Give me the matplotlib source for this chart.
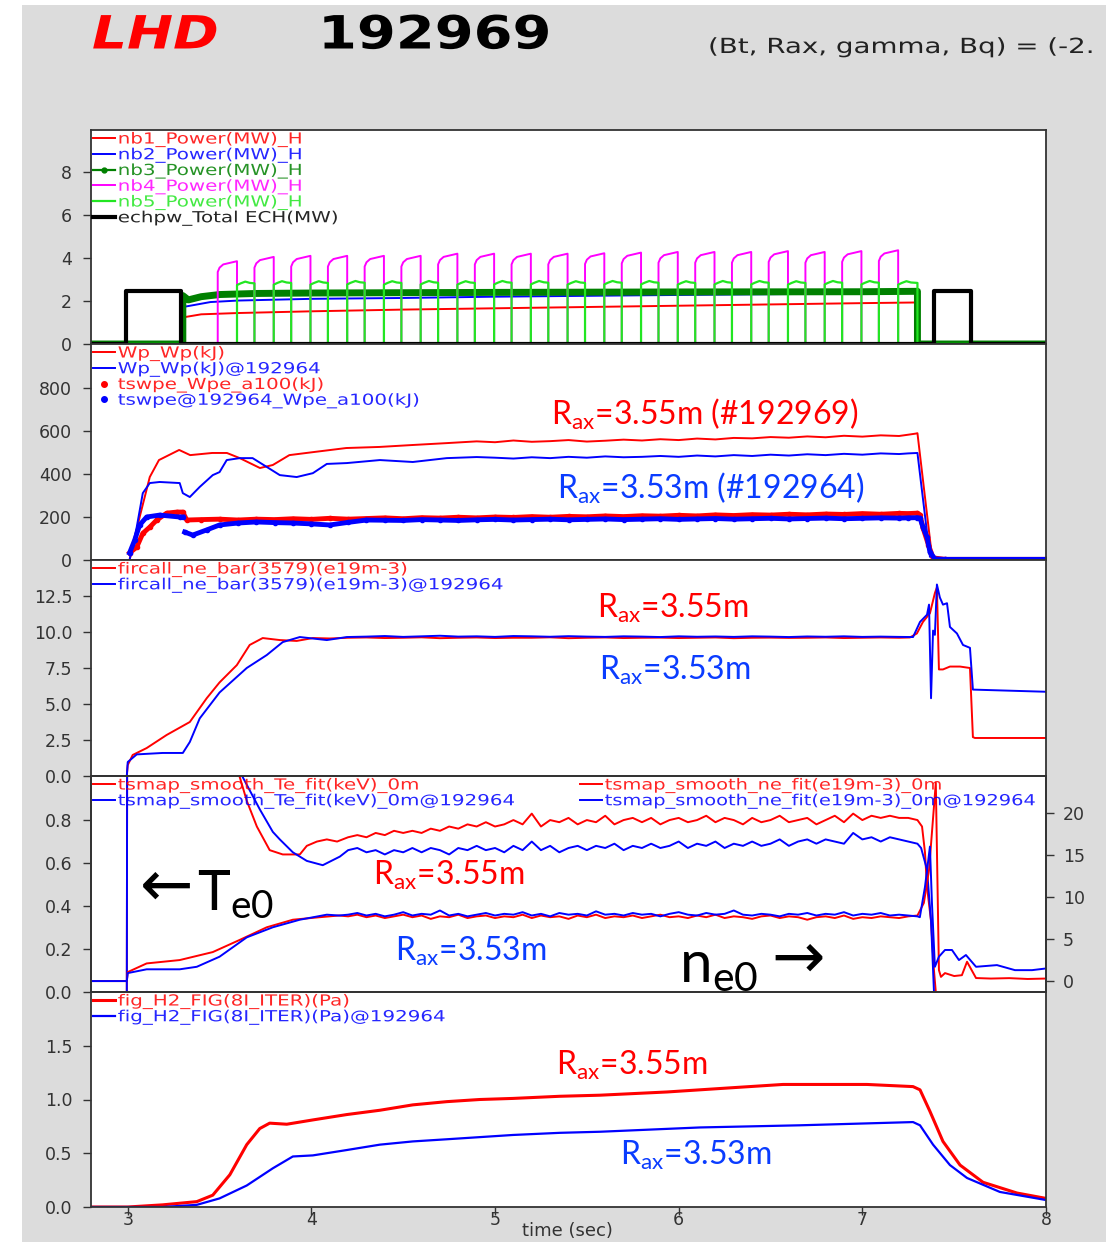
""" LHD shot 192969 vs 192964 - five stacked time traces.

Values were read off the reference screenshot by eye.
"""
import numpy as np
import matplotlib
matplotlib.use("Agg")
import matplotlib.pyplot as plt
from matplotlib.lines import Line2D
from matplotlib.patches import Rectangle
from matplotlib.patheffects import AbstractPathEffect
from matplotlib.ticker import FormatStrFormatter
from matplotlib.transforms import Affine2D

plt.rcParams["mathtext.fontset"] = "custom"
plt.rcParams["mathtext.rm"] = "Lato"
plt.rcParams["mathtext.it"] = "Lato:italic"

T0, T1 = 2.8, 8.0

# ---- panel 1 : heating power (MW) ---------------------------------------
ECH_T = [2.8, 2.99, 2.99, 3.29, 3.29, 7.39, 7.39, 7.59, 7.59, 8.0]
ECH_V = [0, 0, 2.45, 2.45, 0, 0, 2.45, 2.45, 0, 0]

NB1_T = [2.8, 3.30, 3.30, 3.31, 3.40, 3.60, 4.0, 4.5, 5.0, 5.5, 6.0, 6.5, 7.0, 7.29, 7.29, 8.0]
NB1_V = [0, 0, 1.0, 1.25, 1.38, 1.44, 1.52, 1.60, 1.66, 1.72, 1.78, 1.84, 1.90, 1.93, 0, 0]

NB2_T = [2.8, 3.30, 3.30, 3.34, 3.45, 3.60, 4.0, 4.5, 5.0, 6.0, 7.0, 7.30, 7.30, 8.0]
NB2_V = [0, 0, 1.72, 1.78, 1.95, 2.02, 2.10, 2.14, 2.20, 2.28, 2.35, 2.38, 0, 0]

NB3_T = [2.8, 3.30, 3.30, 3.33, 3.40, 3.50, 3.70, 4.0, 5.0, 6.0, 7.0, 7.30, 7.30, 8.0]
NB3_V = [0, 0, 2.25, 2.05, 2.20, 2.30, 2.35, 2.37, 2.40, 2.42, 2.43, 2.45, 0, 0]

# nb4 is modulated: pulse start times (s), pulse length, level at pulse end
NB4_START = [3.49, 3.69, 3.89, 4.09, 4.29, 4.49, 4.69, 4.89, 5.09, 5.29,
             5.49, 5.69, 5.89, 6.09, 6.29, 6.49, 6.69, 6.89, 7.09]
NB4_WIDTH = 0.105
NB4_TOP = [3.85, 4.05, 4.10, 4.10, 4.10, 4.10, 4.20, 4.20, 4.20, 4.20,
           4.22, 4.25, 4.28, 4.28, 4.28, 4.32, 4.28, 4.32, 4.36]
NB_OFF = 7.30
# nb5 fills the gaps between nb4 pulses
NB5_TOP = [2.82, 2.84, 2.84, 2.85, 2.84, 2.85, 2.84, 2.85, 2.85, 2.84,
           2.85, 2.85, 2.84, 2.85, 2.85, 2.84, 2.85, 2.85, 2.84]

# ---- panel 2 : stored energy (kJ) ---------------------------------------
WP_R_T = [2.8, 3.01, 3.065, 3.12, 3.17, 3.28, 3.34, 3.46, 3.54, 3.61, 3.72,
          3.79, 3.88, 4.01, 4.19, 4.37, 4.55, 4.74, 4.86]
WP_R_V = [0, 0, 200, 386, 465, 512, 488, 498, 498, 474, 428,
          442, 488, 502, 521, 526, 535, 544, 550]
WP_R_FLAT = [552, 548, 556, 550, 553, 558, 551, 555, 560, 556, 562, 558,
             565, 561, 568, 566, 572, 569, 575, 571, 578, 574, 580, 577]   # 4.9..7.2
WP_R_END_T = [7.25, 7.29, 7.30, 7.38, 7.40, 8.0]
WP_R_END_V = [583, 588, 590, 10, 6, 5]

WP_B_T = [2.8, 3.01, 3.049, 3.082, 3.12, 3.174, 3.283, 3.30, 3.338, 3.392,
          3.463, 3.50, 3.539, 3.61, 3.68, 3.757, 3.828, 3.92, 4.008, 4.084,
          4.193, 4.373, 4.552, 4.737, 4.90]
WP_B_V = [0, 0, 153, 311, 358, 363, 358, 311, 293, 340,
          395, 409, 465, 474, 474, 433, 395, 386, 404, 447,
          451, 465, 456, 474, 479]
WP_B_FLAT = [476, 472, 478, 474, 480, 476, 482, 478, 480, 484, 480, 486,
             482, 488, 484, 490, 486, 492, 488, 494, 490, 496, 493]        # 5.0..7.2
WP_B_END_T = [7.25, 7.30, 7.368, 7.40, 8.0]
WP_B_END_V = [496, 498, 15, 8, 8]

WPE_R_T = [3.01, 3.049, 3.082, 3.12, 3.158, 3.212, 3.267, 3.30, 3.321]
WPE_R_V = [33, 60, 124, 153, 186, 218, 223, 223, 186]
WPE_R_FLAT = [188, 190, 186, 190, 188, 192, 189, 194, 190, 193, 196, 192, 197,
              195, 199, 196, 200, 198, 202, 199, 203, 201, 205, 202, 206, 204,
              208, 205, 210, 207, 211, 209, 213, 210, 214, 212, 216, 213, 217]  # 3.4..7.2
WPE_R_END_T = [7.25, 7.30, 7.314, 7.33, 7.36, 7.385, 7.45, 8.0]
WPE_R_END_V = [216, 218, 210, 150, 70, 10, 3, 3]

WPE_B_T = [3.01, 3.038, 3.065, 3.103, 3.174, 3.283, 3.30, 3.305, 3.31, 3.354, 3.43]
WPE_B_V = [33, 93, 163, 200, 209, 200, 200, np.nan, 130, 116, 140]
WPE_B_FLAT = [163, 172, 177, 174, 172, 168, 163, 175, 186, 185, 184, 188, 186,
              184, 187, 189, 186, 188, 190, 187, 189, 191, 188, 190, 192, 189,
              191, 193, 190, 192, 194, 191, 193, 195, 192, 194, 196, 195]      # 3.5..7.2
WPE_B_END_T = [7.25, 7.30, 7.314, 7.33, 7.352, 7.368, 7.395, 7.45, 8.0]
WPE_B_END_V = [196, 197, 195, 153, 107, 37, 5, 3, 3]

# ---- panel 3 : line averaged density (1e19 m^-3) ------------------------
NEB_R_T = [2.8, 2.995, 3.0, 3.027, 3.103, 3.212, 3.338, 3.43, 3.50, 3.594,
           3.664, 3.735, 3.828, 3.92, 4.008]
NEB_R_V = [0, 0, 0.76, 1.46, 1.94, 2.85, 3.75, 5.4, 6.5, 7.7,
           9.1, 9.58, 9.44, 9.38, 9.58]
NEB_R_FLAT = [9.55, 9.60, 9.62, 9.58, 9.60, 9.63, 9.57, 9.60, 9.62, 9.58, 9.60,
              9.60, 9.63, 9.57, 9.60, 9.62, 9.58, 9.60, 9.61, 9.58, 9.60, 9.62,
              9.57, 9.60, 9.61, 9.59, 9.60, 9.62, 9.58, 9.60, 9.62, 9.60]       # 4.1..7.2
NEB_R_END_T = [7.259, 7.297, 7.33, 7.368, 7.395, 7.406, 7.417, 7.439, 7.477,
               7.532, 7.586, 7.602, 7.613, 8.0]
NEB_R_END_V = [9.62, 9.9, 10.7, 11.3, 12.7, 13.1, 7.4, 7.4, 7.6,
               7.6, 7.5, 2.7, 2.64, 2.64]

NEB_B_T = [2.8, 2.995, 3.0, 3.049, 3.19, 3.30, 3.338, 3.392, 3.50, 3.648,
           3.757, 3.844, 3.937, 4.084, 4.193]
NEB_B_V = [0, 0, 0.97, 1.5, 1.6, 1.6, 2.36, 4.0, 5.8, 7.5,
           8.4, 9.3, 9.65, 9.44, 9.65]
NEB_B_FLAT = [9.68, 9.72, 9.66, 9.70, 9.74, 9.68, 9.70, 9.66, 9.72, 9.70,
              9.67, 9.71, 9.68, 9.66, 9.70, 9.68, 9.65, 9.70, 9.67, 9.69,
              9.66, 9.70, 9.68, 9.65, 9.69, 9.67, 9.70, 9.66, 9.68, 9.66]       # 4.3..7.2
NEB_B_END_T = [7.276, 7.314, 7.352, 7.363, 7.374, 7.385, 7.395, 7.406, 7.422,
               7.439, 7.461, 7.477, 7.515, 7.548, 7.586, 7.602, 8.0]
NEB_B_END_V = [9.65, 10.7, 11.2, 11.9, 5.4, 10.1, 9.8, 13.3, 12.4,
               11.9, 12.0, 10.35, 9.9, 9.1, 8.9, 6.0, 5.85]

# ---- panel 4 : central Te (keV, left) and ne (1e19 m^-3, right) ---------
TE_R_T = [2.8, 2.995, 3.0, 3.57, 3.61, 3.648, 3.703, 3.773, 3.844, 3.937,
          3.975, 4.03, 4.084, 4.14]
TE_R_V = [0, 0, 3.0, 1.05, 1.0, 0.89, 0.77, 0.66, 0.64, 0.64,
          0.68, 0.70, 0.71, 0.70]
TE_R_NOISE = [0.72, 0.73, 0.72, 0.74, 0.73, 0.75, 0.74, 0.75, 0.74, 0.76, 0.75,
              0.77, 0.76, 0.78, 0.77, 0.79, 0.77, 0.78, 0.80, 0.78, 0.83, 0.77,
              0.80, 0.79, 0.81, 0.78, 0.80, 0.79, 0.82, 0.78, 0.80, 0.81, 0.79,
              0.81, 0.78, 0.80, 0.81, 0.79, 0.80, 0.82, 0.79, 0.81, 0.80, 0.78,
              0.81, 0.79, 0.80, 0.82, 0.79, 0.80, 0.81, 0.78, 0.80, 0.82, 0.79,
              0.83, 0.80, 0.82, 0.81, 0.82, 0.81, 0.81, 0.80]                   # 4.2..7.3
TE_R_END_T = [7.325, 7.341, 7.352, 7.374, 7.39, 7.40, 8.0]
TE_R_END_V = [0.77, 0.65, 0.49, 0.33, 0.10, 0.0, 0.0]

TE_B_T = [2.8, 2.995, 3.0, 3.59, 3.626, 3.719, 3.79, 3.828, 3.899, 3.975,
          4.062, 4.155]
TE_B_V = [0, 0, 3.0, 1.05, 1.0, 0.85, 0.745, 0.71, 0.65, 0.61,
          0.59, 0.63]
TE_B_NOISE = [0.66, 0.67, 0.65, 0.66, 0.64, 0.66, 0.65, 0.67, 0.65, 0.67, 0.66,
              0.64, 0.67, 0.66, 0.68, 0.66, 0.67, 0.65, 0.68, 0.66, 0.70, 0.66,
              0.68, 0.65, 0.67, 0.68, 0.66, 0.68, 0.67, 0.69, 0.66, 0.68, 0.67,
              0.69, 0.67, 0.68, 0.70, 0.67, 0.69, 0.68, 0.70, 0.67, 0.69, 0.68,
              0.70, 0.68, 0.69, 0.71, 0.68, 0.70, 0.71, 0.69, 0.71, 0.70, 0.69,
              0.74, 0.71, 0.72, 0.70, 0.72, 0.71, 0.70, 0.69]                   # 4.2..7.3
TE_B_END_T = [7.32, 7.352, 7.374, 7.39, 8.0]
TE_B_END_V = [0.67, 0.57, 0.33, 0.0, 0.0]

NE_R_T = [2.8, 2.995, 3.0, 3.103, 3.283, 3.463, 3.61, 3.757, 3.899, 4.046, 4.15]
NE_R_V = [0, 0, 1.07, 2.1, 2.5, 3.45, 4.9, 6.4, 7.3, 7.6, 7.8]
NE_R_NOISE = [7.7, 7.9, 7.6, 7.8, 7.5, 7.7, 7.9, 7.6, 7.8, 7.4, 7.7, 7.6, 7.9,
              7.5, 7.7, 7.8, 7.5, 7.7, 7.6, 7.9, 7.5, 7.8, 7.6, 7.7, 7.4, 7.8,
              7.6, 7.9, 7.5, 7.7, 7.6, 7.8, 7.5, 7.7, 7.9, 7.6, 7.7, 7.5, 7.8,
              7.6, 7.9, 7.5, 7.7, 7.6, 7.4, 7.7, 7.8, 7.5, 7.7, 7.6, 7.3, 7.6,
              7.7, 7.5, 7.8, 7.4, 7.6, 7.5, 7.7, 7.6, 7.5, 7.7, 7.8]            # 4.2..7.3
NE_R_END_T = [7.335, 7.363, 7.40, 7.417, 7.428, 7.45, 7.50, 7.542, 7.57,
              7.619, 7.70, 7.80, 7.90, 8.0]
NE_R_END_V = [9.3, 13.2, 23.6, 1.3, 0.5, 0.95, 0.6, 0.7, 2.3,
              0.36, 0.3, 0.35, 0.25, 0.3]

NE_B_T = [2.8, 2.995, 3.0, 3.103, 3.283, 3.376, 3.50, 3.648, 3.79, 3.937,
          4.084, 4.15]
NE_B_V = [0, 0, 0.95, 1.4, 1.4, 1.7, 2.9, 5.2, 6.4, 7.3, 7.9, 7.8]
NE_B_NOISE = [7.9, 8.1, 7.8, 8.0, 7.7, 7.9, 8.2, 7.8, 8.0, 7.9, 8.4, 7.8, 8.0,
              7.7, 7.9, 8.1, 7.8, 8.0, 7.9, 8.2, 7.8, 8.0, 7.7, 8.1, 7.9, 8.0,
              7.8, 8.3, 7.9, 8.0, 7.8, 8.1, 7.9, 8.0, 7.7, 8.0, 8.2, 7.9, 7.8,
              8.1, 7.9, 8.0, 8.4, 7.9, 7.8, 8.0, 7.9, 7.7, 8.0, 7.9, 8.1, 7.8,
              8.0, 7.9, 8.2, 7.8, 8.0, 7.9, 8.1, 7.8, 7.9, 7.8, 7.7]            # 4.2..7.3
NE_B_END_T = [7.313, 7.341, 7.368, 7.379, 7.395, 7.417, 7.45, 7.488, 7.526,
              7.564, 7.619, 7.733, 7.831, 7.924, 8.0]
NE_B_END_V = [7.6, 11.2, 16.0, 9.3, 1.7, 2.9, 3.7, 3.7, 2.5,
              3.1, 1.7, 1.9, 1.3, 1.3, 1.5]

# ---- panel 5 : neutral H2 pressure (Pa) ---------------------------------
FIG_R_T = [2.8, 3.0, 3.19, 3.376, 3.463, 3.556, 3.648, 3.719, 3.773, 3.866,
           4.008, 4.193, 4.373, 4.552, 4.737, 4.917, 5.097, 5.353, 5.571,
           5.936, 6.295, 6.568, 7.025, 7.276, 7.314, 7.368, 7.439, 7.532,
           7.657, 7.842, 8.0]
FIG_R_V = [0, 0, 0.02, 0.05, 0.11, 0.30, 0.58, 0.73, 0.78, 0.77,
           0.81, 0.86, 0.90, 0.95, 0.98, 1.00, 1.01, 1.03, 1.04,
           1.07, 1.11, 1.14, 1.14, 1.12, 1.09, 0.89, 0.61, 0.39,
           0.23, 0.13, 0.08]
FIG_B_T = [2.8, 3.19, 3.376, 3.50, 3.648, 3.79, 3.899, 4.008, 4.193, 4.373,
           4.552, 4.737, 4.917, 5.097, 5.353, 5.571, 6.116, 6.66, 7.276,
           7.314, 7.385, 7.477, 7.570, 7.749, 8.0]
FIG_B_V = [0, 0, 0.02, 0.08, 0.20, 0.36, 0.47, 0.48, 0.53, 0.58,
           0.61, 0.63, 0.65, 0.67, 0.69, 0.70, 0.74, 0.76, 0.79,
           0.76, 0.58, 0.39, 0.27, 0.14, 0.065]

X_TICKS = [3, 4, 5, 6, 7, 8]

RED, BLUE = "#ff0000", "#0000ff"
TXT_BLUE = "#0a3cff"
W, H = 1106, 1242


class HStretch(AbstractPathEffect):
    """Widen glyphs about the text origin (the screenshot is stretched)."""

    def __init__(self, sx):
        super().__init__()
        self.sx = sx

    def draw_path(self, renderer, gc, tpath, affine, rgbFace=None):
        renderer.draw_path(gc, tpath, Affine2D().scale(self.sx, 1) + affine, rgbFace)


def join(t_head, v_head, flat, t0, t1, t_tail, v_tail):
    """Glue hand-read start, evenly sampled middle and end pieces."""
    t_mid = list(np.linspace(t0, t1, len(flat)))
    return (np.array(list(t_head) + t_mid + list(t_tail), float),
            np.array(list(v_head) + list(flat) + list(v_tail), float))


def nb4_wave():
    t, v = [T0], [0.0]
    for ts, a in zip(NB4_START, NB4_TOP):
        te = ts + NB4_WIDTH
        t += [ts, ts, ts + 0.01, ts + 0.03, te, te]
        v += [0, a - 0.5, a - 0.3, a - 0.15, a, 0]
    return t + [T1], v + [0.0]


def nb5_wave():
    t, v = [T0], [0.0]
    nxt = NB4_START[1:] + [NB_OFF]
    for ts, te, a in zip(NB4_START, nxt, NB5_TOP):
        on = ts + NB4_WIDTH
        t += [on, on, on + 0.02, on + 0.045, on + 0.07, te, te]
        v += [0, a - 0.08, a, a + 0.08, a + 0.02, a, 0]
    return t + [T1], v + [0.0]


def style(ax, yticks, fmt=None, bottom=False, right=False):
    ax.set_xlim(T0, T1)
    ax.set_yticks(yticks)
    if fmt:
        ax.yaxis.set_major_formatter(FormatStrFormatter(fmt))
    for s in ax.spines.values():
        s.set_color("#333333")
        s.set_linewidth(1.3)
    ax.tick_params(axis="both", direction="out", length=6, width=1,
                   color="#333333", labelcolor="#333333", labelsize=12.5)
    ax.tick_params(axis="y", pad=6 if right else 7.5)
    ax.tick_params(axis="x", pad=-3)
    if not bottom:
        ax.tick_params(axis="x", bottom=False, labelbottom=False)


def legend(ax, handles, x0=0.0, sx=1.3):
    leg = ax.legend(handles=handles, loc="upper left", bbox_to_anchor=(x0, 1.0),
                    frameon=False, fontsize=11, handlelength=1.5,
                    handletextpad=0.15, labelspacing=-0.03,
                    borderaxespad=0.0, borderpad=0.1, numpoints=1)
    for txt, h in zip(leg.get_texts(), handles):
        txt.set_color(h.get_color())
        txt.set_alpha(0.85)
        txt.set_path_effects([HStretch(sx)])
    return leg


fig = plt.figure(figsize=(W / 100, H / 100), dpi=100, facecolor="white")
fig.patches.append(Rectangle((22 / W, 0), 1 - 22 / W, 1 - 5 / H,
                             transform=fig.transFigure, facecolor="#dcdcdc",
                             edgecolor="none", zorder=-10))

panel_px = [(130, 344), (344, 560), (560, 776), (776, 992), (992, 1207)]
axes = [fig.add_axes([91 / W, 1 - b / H, (1046 - 91) / W, (b - t) / H])
        for t, b in panel_px]
ax1, ax2, ax3, ax4, ax5 = axes

# ---- panel 1 ----
lw = 1.4
h1, = ax1.plot(NB1_T, NB1_V, color=RED, lw=lw, label="nb1_Power(MW)_H")
h2, = ax1.plot(NB2_T, NB2_V, color=BLUE, lw=lw, label="nb2_Power(MW)_H")
ax1.plot(NB3_T, NB3_V, color="#008000", lw=5)
h3 = Line2D([], [], color="#008000", lw=1.6, marker=".", ms=7,
            label="nb3_Power(MW)_H")
t4, v4 = nb4_wave()
h4, = ax1.plot(t4, v4, color="#ff00ff", lw=lw, label="nb4_Power(MW)_H")
t5, v5 = nb5_wave()
h5, = ax1.plot(t5, v5, color="#22e622", lw=1.6, label="nb5_Power(MW)_H")
h6, = ax1.plot(ECH_T, ECH_V, color="black", lw=3, label="echpw_Total ECH(MW)")
ax1.set_ylim(0, 9.95)
style(ax1, [0, 2, 4, 6, 8])
legend(ax1, [h1, h2, h3, h4, h5, h6])

# ---- panel 2 ----
t, v = join(WP_R_T, WP_R_V, WP_R_FLAT, 4.9, 7.2, WP_R_END_T, WP_R_END_V)
g1, = ax2.plot(t, v, color=RED, lw=lw, label="Wp_Wp(kJ)")
t, v = join(WP_B_T, WP_B_V, WP_B_FLAT, 5.0, 7.2, WP_B_END_T, WP_B_END_V)
g2, = ax2.plot(t, v, color=BLUE, lw=lw, label="Wp_Wp(kJ)@192964")
t, v = join(WPE_R_T, WPE_R_V, WPE_R_FLAT, 3.4, 7.2, WPE_R_END_T, WPE_R_END_V)
ax2.plot(t, v, color=RED, lw=3.5, marker=".", ms=6)
t, v = join(WPE_B_T, WPE_B_V, WPE_B_FLAT, 3.5, 7.2, WPE_B_END_T, WPE_B_END_V)
ax2.plot(t, v, color=BLUE, lw=3.5, marker=".", ms=6)
g3 = Line2D([], [], color=RED, ls="none", marker=".", ms=8,
            label="tswpe_Wpe_a100(kJ)")
g4 = Line2D([], [], color=BLUE, ls="none", marker=".", ms=8,
            label="tswpe@192964_Wpe_a100(kJ)")
ax2.set_ylim(0, 1005)
style(ax2, [0, 200, 400, 600, 800])
legend(ax2, [g1, g2, g3, g4])

# ---- panel 3 ----
t, v = join(NEB_R_T, NEB_R_V, NEB_R_FLAT, 4.1, 7.2, NEB_R_END_T, NEB_R_END_V)
k1, = ax3.plot(t, v, color=RED, lw=lw, label="fircall_ne_bar(3579)(e19m-3)")
t, v = join(NEB_B_T, NEB_B_V, NEB_B_FLAT, 4.3, 7.2, NEB_B_END_T, NEB_B_END_V)
k2, = ax3.plot(t, v, color=BLUE, lw=lw,
               label="fircall_ne_bar(3579)(e19m-3)@192964")
ax3.set_ylim(0, 15)
style(ax3, [0, 2.5, 5, 7.5, 10, 12.5], "%.1f")
legend(ax3, [k1, k2])

# ---- panel 4 (two y axes) ----
ax4r = ax4.twinx()
t, v = join(TE_R_T, TE_R_V, TE_R_NOISE, 4.2, 7.3, TE_R_END_T, TE_R_END_V)
m1, = ax4.plot(t, v, color=RED, lw=lw, label="tsmap_smooth_Te_fit(keV)_0m")
t, v = join(TE_B_T, TE_B_V, TE_B_NOISE, 4.2, 7.3, TE_B_END_T, TE_B_END_V)
m2, = ax4.plot(t, v, color=BLUE, lw=lw,
               label="tsmap_smooth_Te_fit(keV)_0m@192964")
t, v = join(NE_R_T, NE_R_V, NE_R_NOISE, 4.2, 7.3, NE_R_END_T, NE_R_END_V)
n1, = ax4r.plot(t, v, color=RED, lw=lw, label="tsmap_smooth_ne_fit(e19m-3)_0m")
t, v = join(NE_B_T, NE_B_V, NE_B_NOISE, 4.2, 7.3, NE_B_END_T, NE_B_END_V)
n2, = ax4r.plot(t, v, color=BLUE, lw=lw,
                label="tsmap_smooth_ne_fit(e19m-3)_0m@192964")
ax4.set_ylim(0, 1.005)
ax4r.set_ylim(-1.3, 24.4)
style(ax4, [0, 0.2, 0.4, 0.6, 0.8], "%.1f")
style(ax4r, [0, 5, 10, 15, 20], right=True)
legend(ax4, [m1, m2])
legend(ax4r, [n1, n2], x0=(578 - 91) / (1046 - 91), sx=1.27)

# ---- panel 5 ----
p1, = ax5.plot(FIG_R_T, FIG_R_V, color=RED, lw=2.2,
               label="fig_H2_FIG(8I_ITER)(Pa)")
p2, = ax5.plot(FIG_B_T, FIG_B_V, color=BLUE, lw=1.6,
               label="fig_H2_FIG(8I_ITER)(Pa)@192964")
ax5.set_ylim(0, 2.0)
style(ax5, [0, 0.5, 1.0, 1.5], "%.1f", bottom=True)
ax5.set_xticks(X_TICKS)
legend(ax5, [p1, p2])
fig.text(567 / W, 1 - 1231 / H, "time (sec)", fontsize=13, color="#333333",
         ha="center", va="center")

# ---- header ----
fig.text(92 / W, 1 - 36 / H, "LHD", color="red", fontsize=33,
         fontweight="bold", fontstyle="italic", va="center",
         path_effects=[HStretch(1.2)])
fig.text(318 / W, 1 - 36 / H, "192969", color="black", fontsize=33,
         fontweight="bold", va="center", path_effects=[HStretch(1.22)])
fig.text(708 / W, 1 - 47 / H, "(Bt, Rax, gamma, Bq) = (-2.",
         fontsize=15, color="#222222", va="center",
         path_effects=[HStretch(1.33)])

# ---- hand-written annotations ----
notes = [
    (r"R$_{\mathrm{ax}}$=3.55m (#192969)", RED, 551, 425),
    (r"R$_{\mathrm{ax}}$=3.53m (#192964)", TXT_BLUE, 557, 499),
    (r"R$_{\mathrm{ax}}$=3.55m", RED, 597, 618),
    (r"R$_{\mathrm{ax}}$=3.53m", TXT_BLUE, 599, 680),
    (r"R$_{\mathrm{ax}}$=3.55m", RED, 373, 885),
    (r"R$_{\mathrm{ax}}$=3.53m", TXT_BLUE, 395, 961),
    (r"R$_{\mathrm{ax}}$=3.55m", RED, 556, 1075),
    (r"R$_{\mathrm{ax}}$=3.53m", TXT_BLUE, 620, 1165),
]
for s, c, x, y in notes:
    fig.text(x / W, 1 - y / H, s, color=c, fontsize=23, family="Lato",
             va="baseline", ha="left")

fig.text(140 / W, 1 - 906 / H, "\u2190", fontsize=46, family="DejaVu Sans",
         va="baseline", color="black")
fig.text(197 / W, 1 - 910 / H, r"T$_{\mathrm{e0}}$", fontsize=40, family="Lato",
         va="baseline", color="black")
fig.text(679 / W, 1 - 982 / H, r"n$_{\mathrm{e0}}$", fontsize=42, family="Lato",
         va="baseline", color="black")
fig.text(771 / W, 1 - 978 / H, "\u2192", fontsize=46, family="DejaVu Sans",
         va="baseline", color="black")

fig.savefig("out.png", dpi=100, facecolor=fig.get_facecolor())
